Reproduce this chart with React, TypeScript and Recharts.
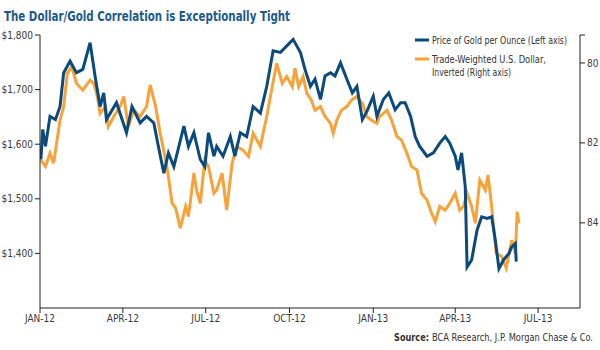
import React from 'react';
import { LineChart, Line, XAxis, YAxis } from 'recharts';

// gold price, USD per ounce (left axis)
const goldDates = [
  '2012-01-02', '2012-01-04', '2012-01-07', '2012-01-12', '2012-01-18', '2012-01-23', '2012-01-27',
  '2012-02-03', '2012-02-10', '2012-02-17', '2012-02-25', '2012-03-02', '2012-03-07', '2012-03-11',
  '2012-03-14', '2012-03-25', '2012-04-05', '2012-04-11', '2012-04-20', '2012-04-27', '2012-05-05',
  '2012-05-10', '2012-05-16', '2012-05-21', '2012-05-27', '2012-06-07', '2012-06-12', '2012-06-18',
  '2012-06-25', '2012-06-30', '2012-07-04', '2012-07-10', '2012-07-13', '2012-07-20', '2012-07-28',
  '2012-08-02', '2012-08-08', '2012-08-15', '2012-08-22', '2012-08-30', '2012-09-06', '2012-09-13',
  '2012-09-21', '2012-09-28', '2012-10-05', '2012-10-13', '2012-10-18', '2012-10-24', '2012-10-29',
  '2012-11-04', '2012-11-09', '2012-11-15', '2012-11-20', '2012-11-26', '2012-12-03', '2012-12-09',
  '2012-12-14', '2012-12-20', '2012-12-25', '2013-01-01', '2013-01-05', '2013-01-12', '2013-01-18',
  '2013-01-25', '2013-01-31', '2013-02-05', '2013-02-11', '2013-02-16', '2013-02-21', '2013-03-01',
  '2013-03-08', '2013-03-15', '2013-03-21', '2013-03-26', '2013-04-01', '2013-04-04', '2013-04-08',
  '2013-04-12', '2013-04-14', '2013-04-19', '2013-04-25', '2013-04-30', '2013-05-06', '2013-05-11',
  '2013-05-15', '2013-05-19', '2013-05-24', '2013-05-30', '2013-06-02', '2013-06-06', '2013-06-07',
];
const goldPrices = [
  1572, 1627, 1596, 1651, 1645, 1669, 1731,
  1752, 1731, 1737, 1786, 1719, 1669, 1694,
  1645, 1676, 1621, 1669, 1639, 1651, 1639,
  1596, 1547, 1584, 1559, 1633, 1596, 1621,
  1572, 1559, 1621, 1578, 1596, 1578, 1614,
  1578, 1621, 1614, 1669, 1657, 1706, 1771,
  1768, 1780, 1792, 1768, 1737, 1706, 1719,
  1682, 1725, 1731, 1725, 1749, 1719, 1694,
  1706, 1645, 1660, 1688, 1651, 1682, 1694,
  1663, 1676, 1676, 1651, 1614, 1596, 1578,
  1584, 1602, 1614, 1602, 1578, 1553, 1584,
  1522, 1375, 1388, 1443, 1467, 1464, 1467,
  1424, 1372, 1388, 1400, 1412, 1418, 1385,
];

// trade-weighted US dollar index (right axis, inverted)
const usdDates = [
  '2012-01-02', '2012-01-07', '2012-01-12', '2012-01-16', '2012-01-23', '2012-01-27', '2012-01-31',
  '2012-02-05', '2012-02-10', '2012-02-17', '2012-02-25', '2012-02-29', '2012-03-04', '2012-03-07',
  '2012-03-13', '2012-03-16', '2012-03-22', '2012-03-29', '2012-04-02', '2012-04-07', '2012-04-13',
  '2012-04-20', '2012-04-27', '2012-05-01', '2012-05-07', '2012-05-12', '2012-05-18', '2012-05-21',
  '2012-05-25', '2012-05-29', '2012-06-03', '2012-06-09', '2012-06-12', '2012-06-18', '2012-06-21',
  '2012-06-25', '2012-06-30', '2012-07-04', '2012-07-10', '2012-07-13', '2012-07-19', '2012-07-24',
  '2012-07-30', '2012-08-04', '2012-08-11', '2012-08-17', '2012-08-22', '2012-08-30', '2012-09-02',
  '2012-09-06', '2012-09-12', '2012-09-17', '2012-09-23', '2012-09-28', '2012-10-04', '2012-10-07',
  '2012-10-11', '2012-10-16', '2012-10-20', '2012-10-25', '2012-10-29', '2012-11-04', '2012-11-09',
  '2012-11-15', '2012-11-18', '2012-11-22', '2012-11-27', '2012-12-03', '2012-12-08', '2012-12-14',
  '2012-12-20', '2012-12-25', '2012-12-30', '2013-01-05', '2013-01-08', '2013-01-16', '2013-01-21',
  '2013-01-27', '2013-02-01', '2013-02-07', '2013-02-12', '2013-02-18', '2013-02-23', '2013-03-01',
  '2013-03-06', '2013-03-10', '2013-03-15', '2013-03-21', '2013-03-26', '2013-04-01', '2013-04-06',
  '2013-04-10', '2013-04-14', '2013-04-19', '2013-04-23', '2013-04-28', '2013-05-04', '2013-05-07',
  '2013-05-11', '2013-05-16', '2013-05-22', '2013-05-27', '2013-06-02', '2013-06-06', '2013-06-08',
  '2013-06-10',
];
const usdIndex = [
  82.43, 82.59, 82.26, 82.51, 81.43, 81.09, 80.26,
  80.09, 80.51, 80.68, 80.43, 80.51, 80.84, 81.26,
  81.09, 81.59, 81.34, 81.09, 80.84, 81.59, 81.18,
  81.34, 81.09, 80.55, 81.09, 81.76, 82.43, 82.84,
  83.51, 83.63, 84.13, 83.59, 83.84, 82.76, 83.18,
  83.51, 82.43, 82.59, 83.26, 83.18, 82.76, 83.68,
  82.51, 82.09, 82.18, 82.34, 81.76, 82.09, 81.76,
  81.34, 80.59, 80.01, 80.51, 80.34, 80.59, 80.13,
  80.59, 80.34, 80.76, 80.93, 81.18, 81.09, 81.34,
  81.51, 81.76, 81.43, 81.18, 81.09, 80.93, 80.84,
  81.01, 81.34, 81.43, 81.51, 81.34, 81.18, 81.43,
  81.84, 81.93, 82.26, 82.59, 82.68, 83.26, 83.43,
  83.76, 83.97, 83.59, 83.68, 83.51, 83.26, 83.68,
  83.59, 83.26, 83.59, 84.01, 82.93, 83.18, 82.80,
  83.59, 84.76, 84.84, 85.13, 84.43, 84.76, 83.72,
  84.01,
];

const xTickDates = ['2012-01-01', '2012-04-01', '2012-07-01', '2012-10-01', '2013-01-01', '2013-04-01', '2013-07-01'];
const xTickLabels = ['JAN-12', 'APR-12', 'JUL-12', 'OCT-12', 'JAN-13', 'APR-13', 'JUL-13'];
const goldTicks = [1400, 1500, 1600, 1700, 1800];
const usdTicks = [80, 82, 84];
const usdDomain = [79.3, 86.13];

const BLUE = '#0b4a7d';
const ORANGE = '#f8a238';
const FONT = '"Liberation Sans Narrow", "DejaVu Sans Condensed", "Arial Narrow", sans-serif';

const ts = (d: string) => Date.parse(d + 'T00:00:00Z');

const goldData = goldDates.map((d, i) => ({ t: ts(d), gold: goldPrices[i] }));
const usdData = usdDates.map((d, i) => ({ t: ts(d), usd: usdIndex[i] }));
const xTicks = xTickDates.map(ts);

const legendItems = [
  { color: BLUE, lines: ['Price of Gold per Ounce (Left axis)'], widths: [135] },
  { color: ORANGE, lines: ['Trade-Weighted U.S. Dollar,', 'Inverted (Right axis)'], widths: [114, 79] },
];

const tickStyle = { fill: '#3a3a3a', fontSize: 10, fontFamily: FONT };

export default function App() {
  return (
    <div style={{ position: 'absolute', left: 0, top: 0, width: 600, height: 350, background: '#fff' }}>
      <LineChart width={600} height={350} data={goldData} margin={{ top: 35, right: 0, bottom: 12, left: 0 }}>
        <XAxis
          dataKey="t"
          type="number"
          scale="time"
          domain={[ts('2012-01-01'), ts('2013-08-16')]}
          ticks={xTicks}
          tickFormatter={(v: number) => xTickLabels[xTicks.indexOf(v)] ?? ''}
          height={30}
          tickSize={5}
          tick={tickStyle}
          stroke="#222"
          allowDataOverflow
        />
        <YAxis
          yAxisId="left"
          domain={[1300, 1800]}
          ticks={goldTicks}
          tickFormatter={(v: number) => '$' + v.toLocaleString('en-US')}
          width={40}
          tickSize={5}
          tickMargin={2}
          tick={tickStyle}
          stroke="#222"
          allowDataOverflow
        />
        <YAxis
          yAxisId="right"
          orientation="right"
          reversed
          domain={usdDomain}
          ticks={[usdDomain[0], ...usdTicks]}
          tickFormatter={(v: number) => (usdTicks.includes(v) ? String(v) : '')}
          width={20}
          tickSize={5}
          tickMargin={2}
          tick={tickStyle}
          stroke="#222"
          allowDataOverflow
        />
        <Line
          yAxisId="right"
          data={usdData}
          dataKey="usd"
          stroke={ORANGE}
          strokeWidth={3}
          dot={false}
          isAnimationActive={false}
        />
        <Line
          yAxisId="left"
          data={goldData}
          dataKey="gold"
          stroke={BLUE}
          strokeWidth={3}
          dot={false}
          isAnimationActive={false}
        />
      </LineChart>
      <svg width={600} height={350} style={{ position: 'absolute', left: 0, top: 0, pointerEvents: 'none' }}>
        <text x={4} y={20.5} fontFamily={FONT} fontSize={14} fontWeight="bold" fill="#1b5a8d" textLength={286} lengthAdjust="spacingAndGlyphs">
          The Dollar/Gold Correlation is Exceptionally Tight
        </text>
        {legendItems.map((item, i) => {
          const y = i === 0 ? 40 : 59;
          return (
            <g key={i}>
              <line x1={415} x2={429} y1={y} y2={y} stroke={item.color} strokeWidth={3} />
              {item.lines.map((ln, j) => (
                <text
                  key={j}
                  x={432}
                  y={y + 4 + j * 13}
                  fontFamily={FONT}
                  fontSize={10.5}
                  fill="#333"
                  textLength={item.widths[j]}
                  lengthAdjust="spacingAndGlyphs"
                >
                  {ln}
                </text>
              ))}
            </g>
          );
        })}
        <text x={394} y={341} fontFamily={FONT} fontSize={10.5} fontWeight="bold" fill="#333" textLength={35} lengthAdjust="spacingAndGlyphs">
          Source:
        </text>
        <text x={593} y={341} textAnchor="end" fontFamily={FONT} fontSize={10.5} fill="#333" textLength={161} lengthAdjust="spacingAndGlyphs">
          BCA Research, J.P. Morgan Chase &amp; Co.
        </text>
      </svg>
    </div>
  );
}
